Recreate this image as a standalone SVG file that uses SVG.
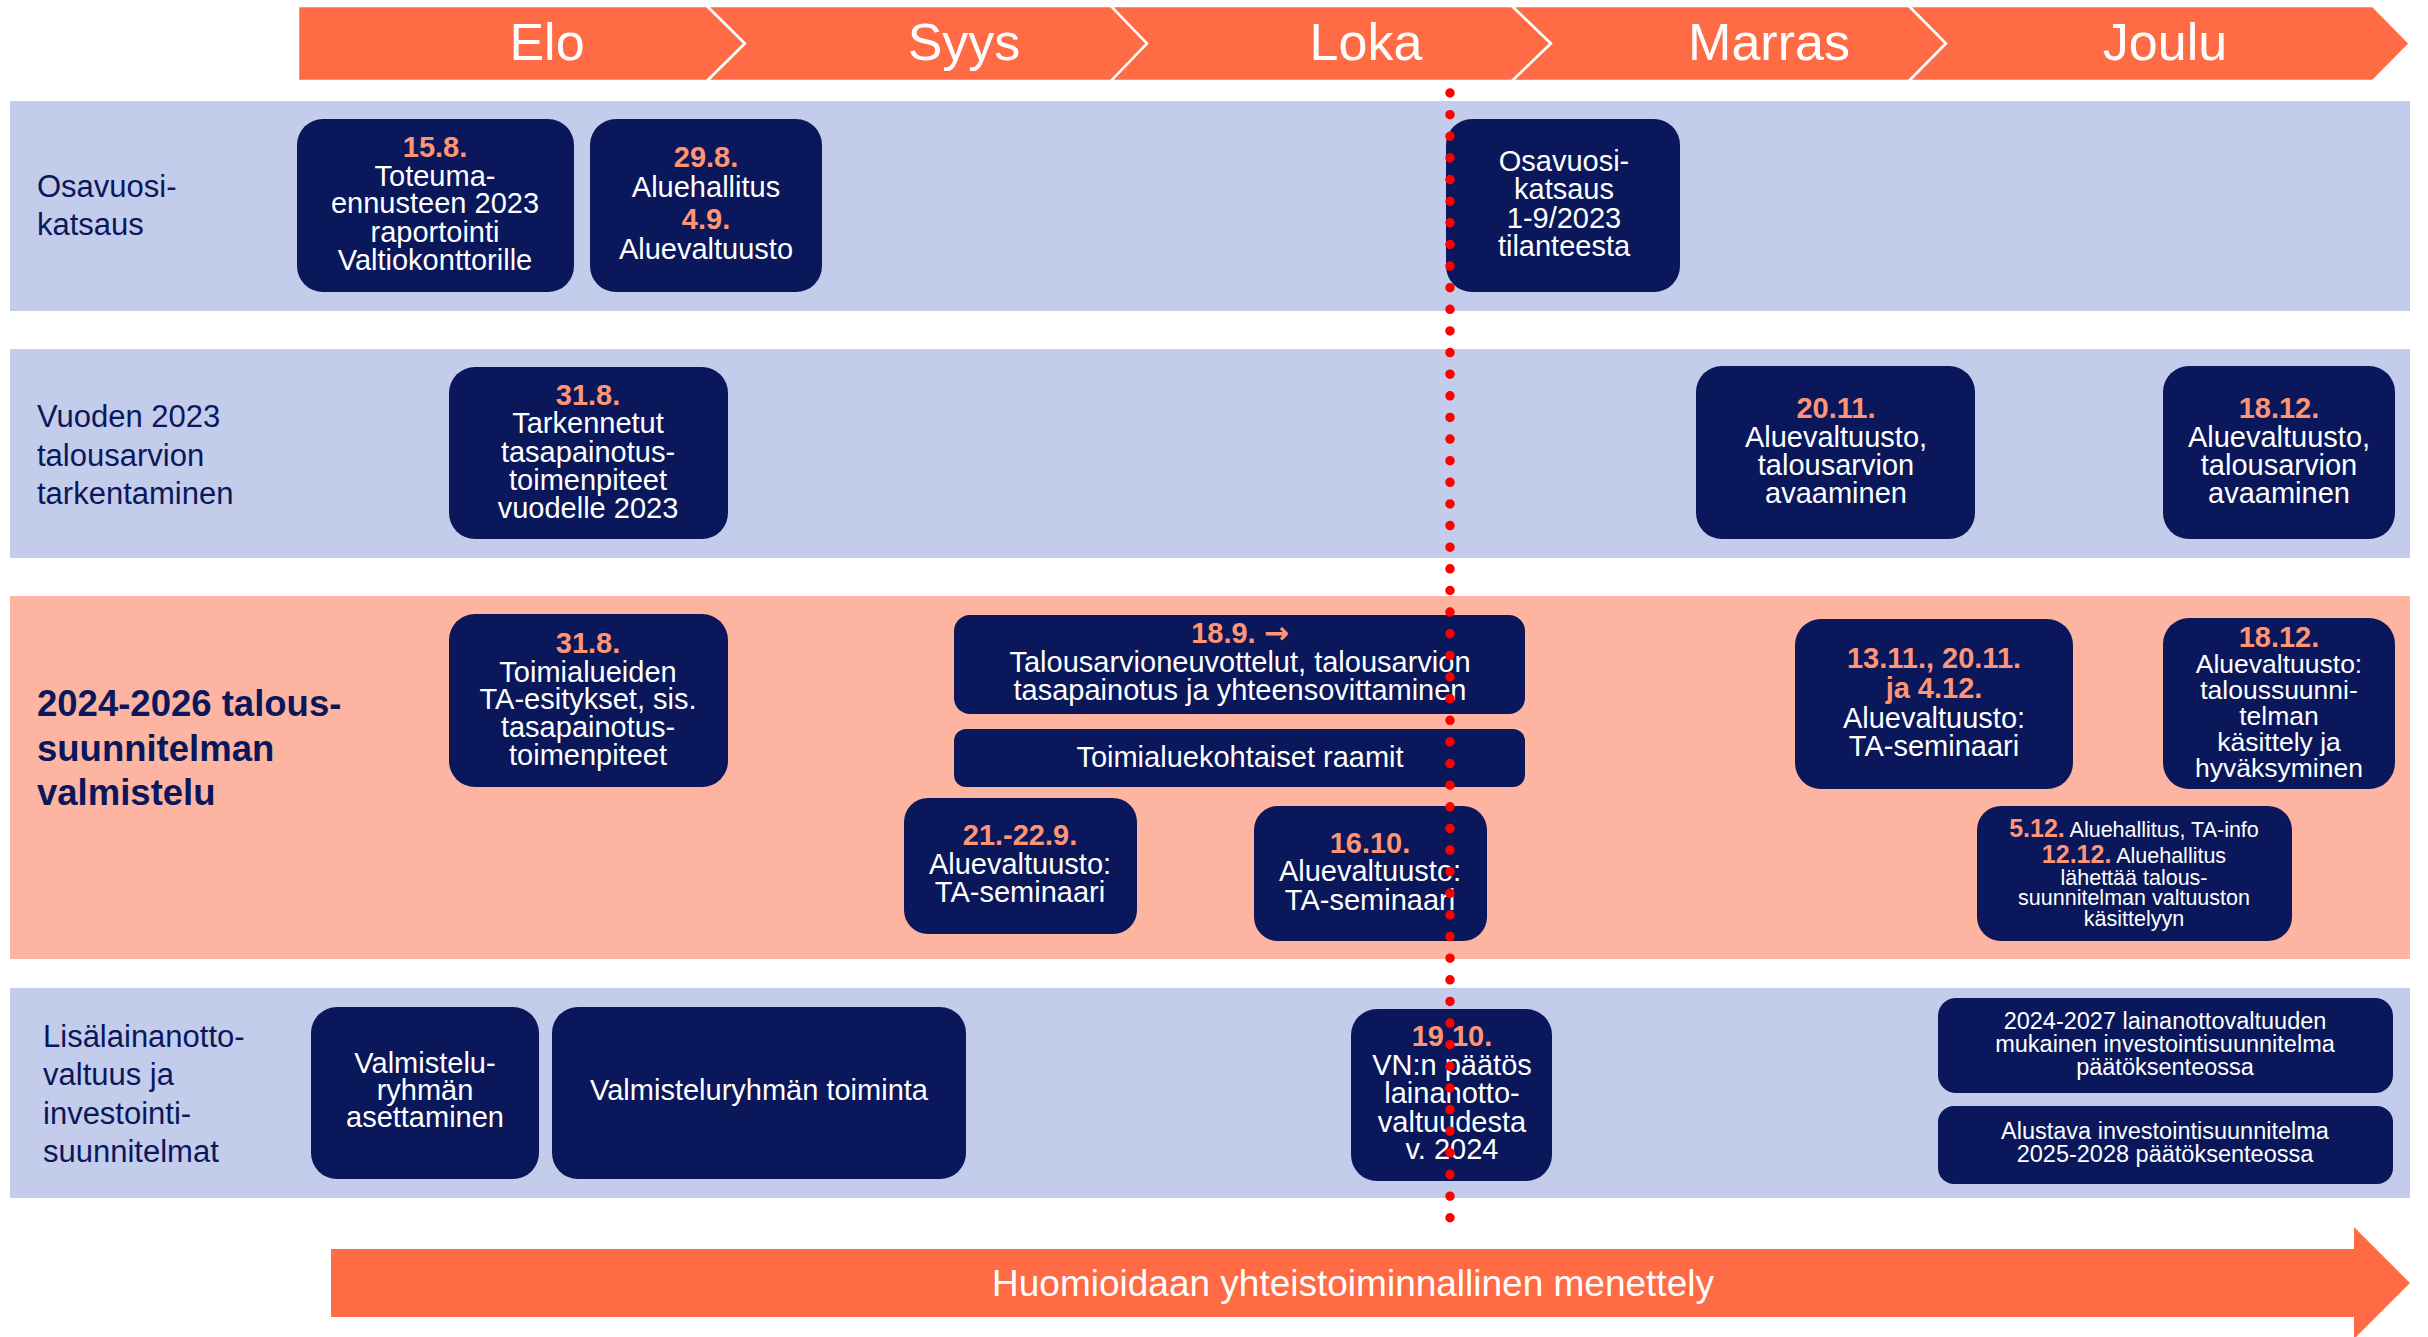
<svg xmlns="http://www.w3.org/2000/svg" width="2428" height="1337" viewBox="0 0 2428 1337">
<style>
.bb{fill:#C3CCEB}
.bs{fill:#FDB5A2}
.hd{fill:#FF6B45;stroke:#fff;stroke-width:2.5;stroke-linejoin:miter}
.nd{fill:#0A185B}
.t{font-family:"Liberation Sans",Arial,sans-serif;fill:#fff;font-size:29px;text-anchor:middle}
.s26{font-size:26.5px}
.s23{font-size:23.5px}
.s21{font-size:21.5px}
.d{fill:#FF9574;font-weight:bold}
.lbl{font-family:"Liberation Sans",Arial,sans-serif;fill:#0A185B;font-size:31px}
.lblb{font-size:36.5px;font-weight:bold}
.mo{font-family:"Liberation Sans",Arial,sans-serif;fill:#fff;font-size:52px;text-anchor:middle}
</style>
<rect width="2428" height="1337" fill="#fff"/>
<g id="header">
<polygon class="hd" points="298,6 707,6 745,43.5 707,81 298,81"/>
<polygon class="hd" points="707,6 1111,6 1147,43.5 1111,81 707,81 745,43.5"/>
<polygon class="hd" points="1111,6 1512,6 1551,43.5 1512,81 1111,81 1147,43.5"/>
<polygon class="hd" points="1512,6 1909,6 1946,43.5 1909,81 1512,81 1551,43.5"/>
<polygon class="hd" points="1909,6 2373,6 2410,43.5 2373,81 1909,81 1946,43.5"/>
<text class="mo" x="547" y="60">Elo</text>
<text class="mo" x="964" y="60">Syys</text>
<text class="mo" x="1366" y="60">Loka</text>
<text class="mo" x="1769" y="60">Marras</text>
<text class="mo" x="2165" y="60">Joulu</text>
</g>
<g id="bands">
<rect class="bb" x="10" y="101" width="2400" height="210"/>
<rect class="bb" x="10" y="349" width="2400" height="209"/>
<rect class="bs" x="10" y="596" width="2400" height="363"/>
<rect class="bb" x="10" y="988" width="2400" height="210"/>
</g>
<g id="row-labels">
<text class="lbl" x="37" y="197">Osavuosi-<tspan x="37" y="235">katsaus</tspan></text>
<text class="lbl" x="37" y="427">Vuoden 2023<tspan x="37" y="466">talousarvion</tspan><tspan x="37" y="504">tarkentaminen</tspan></text>
<text class="lbl lblb" x="37" y="716">2024-2026 talous-<tspan x="37" y="761">suunnitelman</tspan><tspan x="37" y="805">valmistelu</tspan></text>
<text class="lbl" x="43" y="1047">Lisälainanotto-<tspan x="43" y="1085">valtuus ja</tspan><tspan x="43" y="1124">investointi-</tspan><tspan x="43" y="1162">suunnitelmat</tspan></text>
</g>
<g id="n-15-8">
<rect class="nd" x="297" y="119" width="277" height="173" rx="26"/>
<text class="t" x="435" y="157"><tspan class="d">15.8.</tspan><tspan x="435" y="186">Toteuma-</tspan><tspan x="435" y="213">ennusteen 2023</tspan><tspan x="435" y="242">raportointi</tspan><tspan x="435" y="270">Valtiokonttorille</tspan></text>
</g>
<g id="n-29-8">
<rect class="nd" x="590" y="119" width="232" height="173" rx="26"/>
<text class="t" x="706" y="167"><tspan class="d">29.8.</tspan><tspan x="706" y="197">Aluehallitus</tspan><tspan x="706" y="229" class="d">4.9.</tspan><tspan x="706" y="259">Aluevaltuusto</tspan></text>
</g>
<g id="n-osavuosi">
<rect class="nd" x="1446" y="119" width="234" height="173" rx="26"/>
<text class="t" x="1564" y="171">Osavuosi-<tspan x="1564" y="199">katsaus</tspan><tspan x="1564" y="228">1-9/2023</tspan><tspan x="1564" y="256">tilanteesta</tspan></text>
</g>
<g id="n-31-8-a">
<rect class="nd" x="449" y="367" width="279" height="172" rx="26"/>
<text class="t" x="588" y="405"><tspan class="d">31.8.</tspan><tspan x="588" y="433">Tarkennetut</tspan><tspan x="588" y="462">tasapainotus-</tspan><tspan x="588" y="490">toimenpiteet</tspan><tspan x="588" y="518">vuodelle 2023</tspan></text>
</g>
<g id="n-20-11">
<rect class="nd" x="1696" y="366" width="279" height="173" rx="26"/>
<text class="t" x="1836" y="418"><tspan class="d">20.11.</tspan><tspan x="1836" y="447">Aluevaltuusto,</tspan><tspan x="1836" y="475">talousarvion</tspan><tspan x="1836" y="503">avaaminen</tspan></text>
</g>
<g id="n-18-12-a">
<rect class="nd" x="2163" y="366" width="232" height="173" rx="26"/>
<text class="t" x="2279" y="418"><tspan class="d">18.12.</tspan><tspan x="2279" y="447">Aluevaltuusto,</tspan><tspan x="2279" y="475">talousarvion</tspan><tspan x="2279" y="503">avaaminen</tspan></text>
</g>
<g id="n-31-8-b">
<rect class="nd" x="449" y="614" width="279" height="173" rx="26"/>
<text class="t" x="588" y="653"><tspan class="d">31.8.</tspan><tspan x="588" y="682">Toimialueiden</tspan><tspan x="588" y="709">TA-esitykset, sis.</tspan><tspan x="588" y="737">tasapainotus-</tspan><tspan x="588" y="765">toimenpiteet</tspan></text>
</g>
<g id="n-18-9">
<rect class="nd" x="954" y="615" width="571" height="99" rx="16"/>
<text class="t" x="1240" y="643"><tspan class="d">18.9. <tspan style="font-family:'DejaVu Sans',sans-serif;font-size:30px">→</tspan></tspan><tspan x="1240" y="672">Talousarvioneuvottelut, talousarvion</tspan><tspan x="1240" y="700">tasapainotus ja yhteensovittaminen</tspan></text>
</g>
<g id="n-raamit">
<rect class="nd" x="954" y="729" width="571" height="58" rx="12"/>
<text class="t" x="1240" y="767">Toimialuekohtaiset raamit</text>
</g>
<g id="n-21-22-9">
<rect class="nd" x="904" y="798" width="233" height="136" rx="24"/>
<text class="t" x="1020" y="845"><tspan class="d">21.-22.9.</tspan><tspan x="1020" y="874">Aluevaltuusto:</tspan><tspan x="1020" y="902">TA-seminaari</tspan></text>
</g>
<g id="n-16-10">
<rect class="nd" x="1254" y="806" width="233" height="135" rx="24"/>
<text class="t" x="1370" y="853"><tspan class="d">16.10.</tspan><tspan x="1370" y="881">Aluevaltuusto:</tspan><tspan x="1370" y="910">TA-seminaari</tspan></text>
</g>
<g id="n-13-11">
<rect class="nd" x="1795" y="619" width="278" height="170" rx="26"/>
<text class="t" x="1934" y="668"><tspan class="d">13.11., 20.11.</tspan><tspan x="1934" y="698" class="d">ja 4.12.</tspan><tspan x="1934" y="728">Aluevaltuusto:</tspan><tspan x="1934" y="756">TA-seminaari</tspan></text>
</g>
<g id="n-18-12-b">
<rect class="nd" x="2163" y="618" width="232" height="171" rx="26"/>
<text class="t s26" x="2279" y="647"><tspan class="d" style="font-size:29px">18.12.</tspan><tspan x="2279" y="673">Aluevaltuusto:</tspan><tspan x="2279" y="699">taloussuunni-</tspan><tspan x="2279" y="725">telman</tspan><tspan x="2279" y="751">käsittely ja</tspan><tspan x="2279" y="777">hyväksyminen</tspan></text>
</g>
<g id="n-5-12">
<rect class="nd" x="1977" y="806" width="315" height="135" rx="24"/>
<text class="t s21" x="2134" y="837"><tspan class="d" style="font-size:25px">5.12.</tspan> Aluehallitus, TA-info<tspan x="2134" y="863"><tspan class="d" style="font-size:25px">12.12.</tspan> Aluehallitus</tspan><tspan x="2134" y="885">lähettää talous-</tspan><tspan x="2134" y="905">suunnitelman valtuuston</tspan><tspan x="2134" y="926">käsittelyyn</tspan></text>
</g>
<g id="n-valmistelu-asettaminen">
<rect class="nd" x="311" y="1007" width="228" height="172" rx="26"/>
<text class="t" x="425" y="1073">Valmistelu-<tspan x="425" y="1100">ryhmän</tspan><tspan x="425" y="1127">asettaminen</tspan></text>
</g>
<g id="n-valmistelu-toiminta">
<rect class="nd" x="552" y="1007" width="414" height="172" rx="26"/>
<text class="t" x="759" y="1100">Valmisteluryhmän toiminta</text>
</g>
<g id="n-19-10">
<rect class="nd" x="1351" y="1009" width="201" height="172" rx="26"/>
<text class="t" x="1452" y="1046"><tspan class="d">19.10.</tspan><tspan x="1452" y="1075">VN:n päätös</tspan><tspan x="1452" y="1103">lainanotto-</tspan><tspan x="1452" y="1132">valtuudesta</tspan><tspan x="1452" y="1159">v. 2024</tspan></text>
</g>
<g id="n-2024-2027">
<rect class="nd" x="1938" y="998" width="455" height="95" rx="18"/>
<text class="t s23" x="2165" y="1029">2024-2027 lainanottovaltuuden<tspan x="2165" y="1052">mukainen investointisuunnitelma</tspan><tspan x="2165" y="1075">päätöksenteossa</tspan></text>
</g>
<g id="n-alustava">
<rect class="nd" x="1938" y="1106" width="455" height="78" rx="16"/>
<text class="t s23" x="2165" y="1139">Alustava investointisuunnitelma<tspan x="2165" y="1162">2025-2028 päätöksenteossa</tspan></text>
</g>
<g id="bottom-arrow">
<polygon fill="#FF6B45" points="331,1249 2354,1249 2354,1227 2410,1283 2354,1339 2354,1317 331,1317"/>
<text x="1353" y="1296" style="font-family:'Liberation Sans',Arial,sans-serif;fill:#fff;font-size:37px;text-anchor:middle">Huomioidaan yhteistoiminnallinen menettely</text>
</g>
<g id="connectors">
<line x1="1450" y1="93" x2="1450" y2="1218" stroke="#FF0000" stroke-width="9.5" stroke-linecap="round" stroke-dasharray="0 21.63"/>
</g>
</svg>
